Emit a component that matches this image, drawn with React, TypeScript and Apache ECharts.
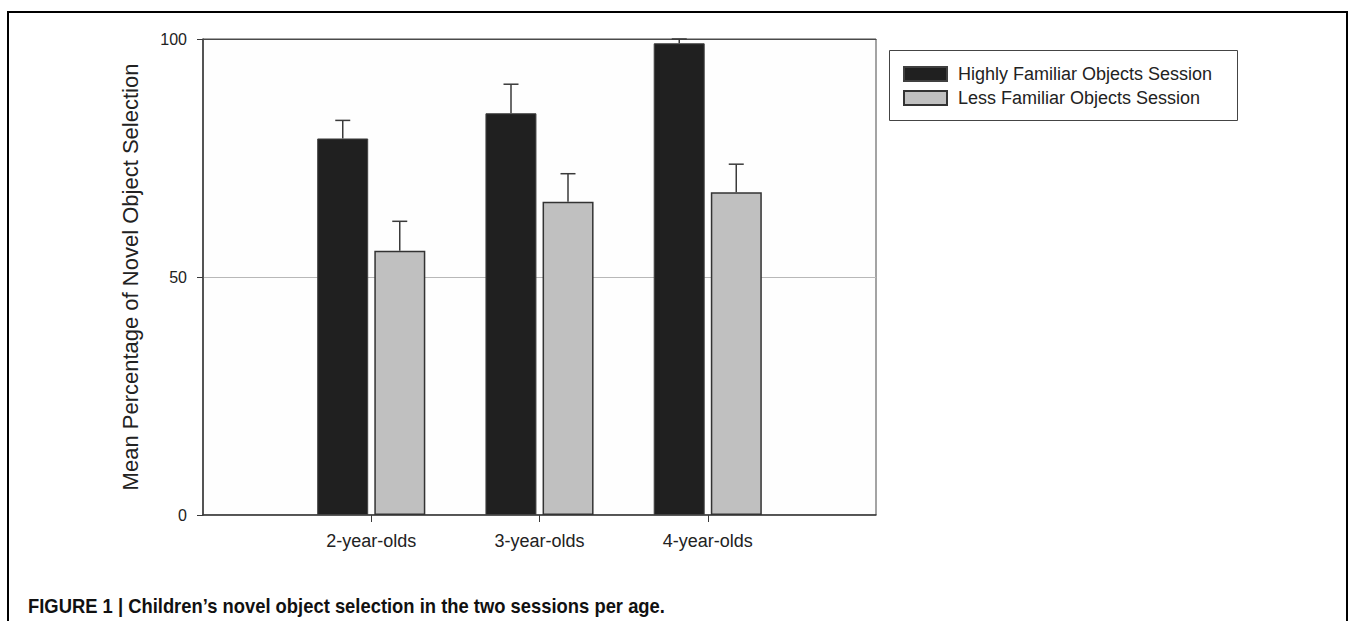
import React, { useEffect, useRef } from "react";
import * as echarts from "echarts";

const categories = ["2-year-olds", "3-year-olds", "4-year-olds"];
const highlyFamiliar = [79.1, 84.4, 99.1];
const highlyFamiliarErr = [3.8, 6.1, 0.9];
const lessFamiliar = [55.5, 65.8, 67.8];
const lessFamiliarErr = [6.2, 5.9, 5.9];
const yTicks = [0, 50, 100];
const seriesNames = ["Highly Familiar Objects Session", "Less Familiar Objects Session"];
const caption = "FIGURE 1 | Children\u2019s novel object selection in the two sessions per age.";

const FONT = '"Liberation Sans", Arial, sans-serif';

export default function App() {
  const ref = useRef<HTMLDivElement>(null);
  useEffect(() => {
    if (!ref.current) return;
    const chart = echarts.init(ref.current, null, { renderer: "svg" });
    const axisCats = ["", ...categories, ""];
    const pad = (arr: number[]) => ["-", ...arr, "-"];
    const errData = (vals: number[], errs: number[]) =>
      vals.map((v, i) => [i + 1, v, errs[i]]);
    const makeErr = (name: string, vals: number[], errs: number[], offset: number) => ({
      type: "custom",
      name: name + " error",
      silent: true,
      z: 3,
      data: errData(vals, errs),
      renderItem: (params: any, api: any) => {
        const base = api.coord([api.value(0), api.value(1)]);
        const top = api.coord([api.value(0), api.value(1) + api.value(2)]);
        const x = base[0] + offset;
        const style = { stroke: "#3a3a3a", lineWidth: 1.5 };
        return {
          type: "group",
          children: [
            { type: "line", shape: { x1: x, y1: base[1], x2: x, y2: top[1] }, style },
            { type: "line", shape: { x1: x - 7.5, y1: top[1], x2: x + 7.5, y2: top[1] }, style },
          ],
        };
      },
    });
    chart.setOption({
      animation: false,
      backgroundColor: "#ffffff",
      grid: {
        left: 203,
        right: 481,
        top: 39,
        bottom: 106,
        show: true,
        borderColor: "#4a4a4a",
        borderWidth: 1,
        backgroundColor: "#fefefe",
        outerBoundsMode: "none",
      },
      legend: {
        left: 903,
        top: 65,
        orient: "vertical",
        itemWidth: 43,
        itemHeight: 14,
        itemGap: 6,
        padding: 0,
        icon: "rect",
        data: seriesNames,
        textStyle: {
          fontFamily: FONT,
          fontSize: 18,
          color: "#222",
          lineHeight: 14,
          padding: [0, 0, 0, 6],
        },
      },
      xAxis: [
        {
          type: "category",
          data: axisCats,
          boundaryGap: false,
          axisLine: { lineStyle: { color: "#3a3a3a", width: 1.5 } },
          axisTick: {
            show: true,
            length: 7,
            interval: (i: number) => i > 0 && i < axisCats.length - 1,
            lineStyle: { color: "#3a3a3a" },
          },
          axisLabel: {
            fontFamily: FONT,
            fontSize: 18,
            color: "#222",
            margin: 17,
            interval: 0,
          },
          splitLine: { show: false },
        },
        {
          type: "category",
          position: "top",
          data: axisCats,
          boundaryGap: false,
          axisLine: { show: true, lineStyle: { color: "#4a4a4a", width: 1 } },
          axisTick: { show: false },
          axisLabel: { show: false },
        },
      ],
      yAxis: {
        type: "value",
        min: yTicks[0],
        max: yTicks[yTicks.length - 1],
        interval: yTicks[1] - yTicks[0],
        name: "Mean Percentage of Novel Object Selection",
        nameLocation: "middle",
        nameGap: 62,
        nameTextStyle: { fontFamily: FONT, fontSize: 22, color: "#222" },
        axisLine: { show: true, lineStyle: { color: "#3a3a3a", width: 1.5 } },
        axisTick: { show: true, length: 6, lineStyle: { color: "#3a3a3a" } },
        axisLabel: { fontFamily: FONT, fontSize: 16, color: "#222", margin: 16 },
        splitLine: { show: true, lineStyle: { color: "#b8b8b8", width: 1 } },
      },
      series: [
        {
          type: "bar",
          name: seriesNames[0],
          data: pad(highlyFamiliar),
          barWidth: 51,
          barGap: "12%",
          itemStyle: { color: "#202020", borderColor: "#404040", borderWidth: 1 },
          z: 2,
        },
        {
          type: "bar",
          name: seriesNames[1],
          data: pad(lessFamiliar),
          barWidth: 51,
          barGap: "12%",
          itemStyle: { color: "#c0c0c0", borderColor: "#333333", borderWidth: 1.5 },
          z: 2,
        },
        makeErr(seriesNames[0], highlyFamiliar, highlyFamiliarErr, -28.5),
        makeErr(seriesNames[1], lessFamiliar, lessFamiliarErr, 28.5),
      ],
      graphic: [
        {
          type: "rect",
          silent: true,
          shape: { x: 8, y: 12, width: 1339, height: 700 },
          style: { fill: "none", stroke: "#000", lineWidth: 2 },
          z: 10,
        },
        {
          type: "rect",
          silent: true,
          shape: { x: 889.5, y: 50.5, width: 348, height: 70 },
          style: { fill: "none", stroke: "#444", lineWidth: 1 },
        },
        {
          type: "text",
          x: 28,
          y: 606,
          scaleX: 0.92,
          style: {
            text: caption,
            fontFamily: FONT,
            fontWeight: "bold",
            fontSize: 20,
            fill: "#111",
            verticalAlign: "middle",
          },
        },
      ],
    });
    return () => chart.dispose();
  }, []);
  return (
    <div
      ref={ref}
      style={{ position: "fixed", left: 0, top: 0, width: 1357, height: 621 }}
    />
  );
}
